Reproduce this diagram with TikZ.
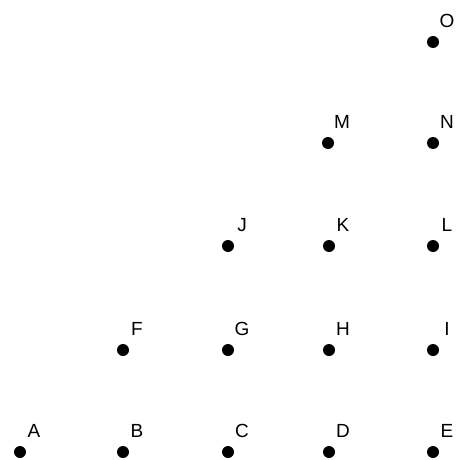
\documentclass[tikz,border=0pt]{standalone}
\usepackage{fontspec}
\setmainfont{Liberation Sans}
\begin{document}
\begin{tikzpicture}[x=1pt,y=-1pt,
  pt/.style={circle,fill=black,inner sep=0pt,minimum size=12pt},
  lab/.style={font=\fontsize{19}{19}\selectfont,inner sep=0pt}]
\useasboundingbox (0,0) rectangle (460,460);
\foreach \n/\x/\y in {A/20/452,B/123/452,C/228/452,D/329/452,E/433/452,
  F/123/350,G/228/350,H/329/350,I/433/350,
  J/228/246,K/329/246,L/433/246,
  M/328/143,N/433/143,O/433/42}{
  \node[pt] (\n) at (\x,\y) {};
  \node[lab] (t\n) at (\x+14,\y-21) {\n};
}
\end{tikzpicture}
\end{document}
